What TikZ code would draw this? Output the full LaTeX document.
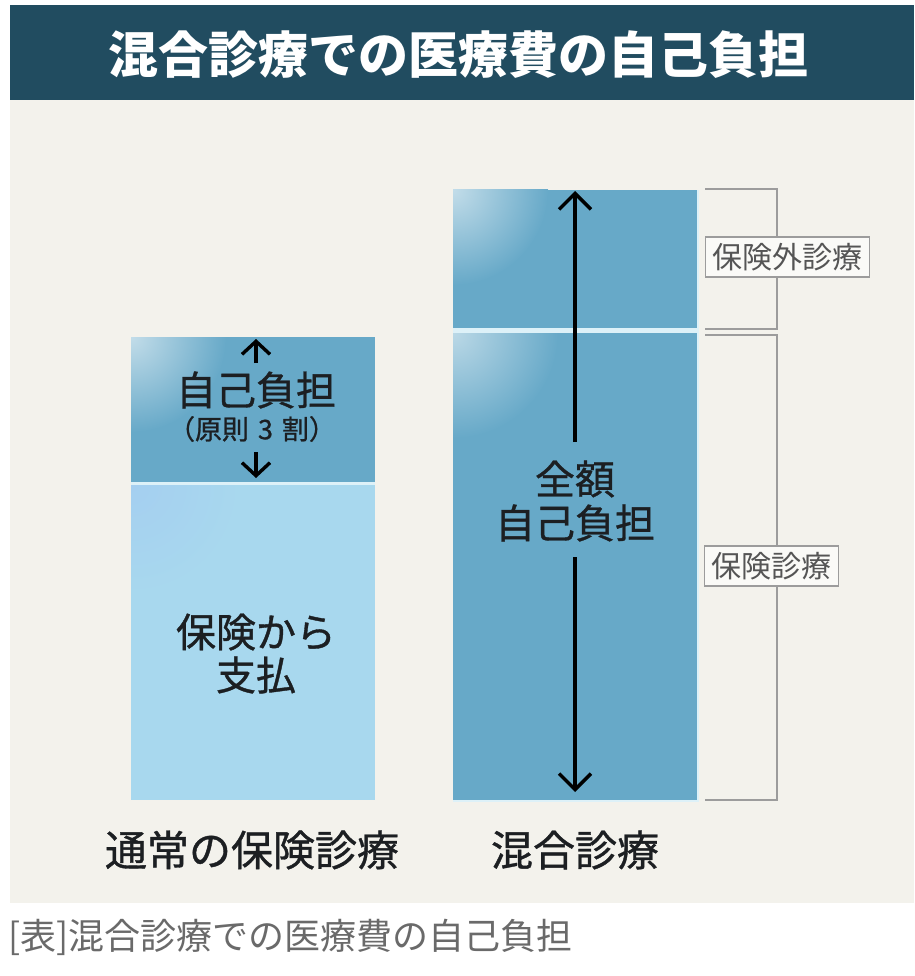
\documentclass[tikz,border=0pt]{standalone}
\usepackage{fontspec}
\setmainfont{Noto Sans CJK JP}
\newfontfamily\cjkmed[FakeBold=0.9]{Noto Sans CJK JP}
\usetikzlibrary{arrows.meta}
\definecolor{titlebg}{HTML}{214C60}
\definecolor{panel}{HTML}{F3F2EC}
\definecolor{boxdark}{HTML}{67A9C8}
\definecolor{boxlight}{HTML}{A8D8EE}
\definecolor{gapcol}{HTML}{DDF1F8}
\definecolor{brk}{HTML}{9C9C9C}
\definecolor{lbltext}{HTML}{555555}
\definecolor{captext}{HTML}{6A6A6A}
\definecolor{maintext}{HTML}{1C1F22}
\tikzset{
  colbox/.style={anchor=north west, inner sep=0pt, outer sep=0pt, draw=none},
  intext/.style={text=maintext, inner sep=0pt, font=\cjkmed\fontsize{40}{42}\selectfont},
  arrS/.style={line width=3.4pt, -{Straight Barb[length=13pt,width=28pt]}},
  arrL/.style={line width=3.4pt, -{Straight Barb[length=16pt,width=32pt]}},
  brace/.style={draw=brk, line width=1.6pt},
  lbl/.style={draw=brk, line width=1.3pt, fill=white!60!panel, text=lbltext,
    inner xsep=7pt, inner ysep=6pt, font=\fontsize{30}{32}\selectfont},
  collbl/.style={text=maintext, font=\cjkmed\fontsize{42}{44}\selectfont},
}
\begin{document}
\begin{tikzpicture}[x=1pt,y=-1pt]
\useasboundingbox (0,0) rectangle (914,976);
\fill[white] (0,0) rectangle (914,976);
% panel and title
\fill[panel] (10,100) rectangle (914,903);
\node[colbox, fill=titlebg, minimum width=904pt, minimum height=95pt] (titlebar) at (10,5) {};
\node[text=white, font=\fontsize{50}{52}\selectfont\bfseries] (title) at (458,55) {混合診療での医療費の自己負担};

% ---------- left column ----------
\fill[gapcol] (131,337) rectangle (375,800);
\node[colbox, fill=boxdark, minimum width=244pt, minimum height=145pt] (ldark) at (131,337) {};
\node[colbox, fill=boxlight, minimum width=244pt, minimum height=315pt] (llight) at (131,485) {};
\begin{scope}
\clip (131,337) rectangle (375,482);
\shade[inner color=white!60!boxdark, outer color=boxdark] (131,337) circle (95pt);
\end{scope}
\begin{scope}
\clip (131,485) rectangle (375,800);
\shade[inner color=white!55!blue!12!boxlight, outer color=boxlight] (131,485) circle (110pt);
\end{scope}
\node[intext] (jiko) at (256,390) {自己負担};
\node[intext, font=\cjkmed\fontsize{27}{29}\selectfont] (gensoku) at (252,429) {（原則\hspace{9pt}3\hspace{9pt}割）};
\node[intext] (hoken1) at (256,632) {保険から};
\node[intext] (hoken2) at (256,675) {支払};
\coordinate (lu1) at (256,363);
\coordinate (lu2) at (256,339);
\coordinate (ld1) at (256,452);
\coordinate (ld2) at (256,478);
\draw[arrS] (lu1) -- (lu2);
\draw[arrS] (ld1) -- (ld2);

% ---------- right column ----------
\fill[gapcol] (453,190) rectangle (699,802);
\node[colbox, fill=boxdark, minimum width=244pt, minimum height=138pt] (rtop) at (453,190) {};
\node[colbox, fill=boxdark, minimum width=244pt, minimum height=467pt] (rbot) at (453,333) {};
\begin{scope}
\clip (453,190) rectangle (697,328);
\shade[inner color=white!60!boxdark, outer color=boxdark] (453,190) circle (95pt);
\end{scope}
\begin{scope}
\clip (453,333) rectangle (697,800);
\shade[inner color=white!55!boxdark, outer color=boxdark] (453,333) circle (105pt);
\end{scope}
\node[intext] (zengaku) at (575,479) {全額};
\node[intext] (jiko2) at (575,523) {自己負担};
\coordinate (ru1) at (575,442);
\coordinate (ru2) at (575,191);
\coordinate (rd1) at (575,557);
\coordinate (rd2) at (575,792);
\draw[arrL] (ru1) -- (ru2);
\draw[arrL] (rd1) -- (rd2);

% ---------- brackets ----------
\coordinate (b1a) at (705,189);
\coordinate (b1b) at (777,189);
\coordinate (b1c) at (777,329);
\coordinate (b1d) at (705,329);
\draw[brace] (b1a) -- (b1b) -- (b1c) -- (b1d);
\coordinate (b2a) at (705,335);
\coordinate (b2b) at (777,335);
\coordinate (b2c) at (777,800);
\coordinate (b2d) at (705,800);
\draw[brace] (b2a) -- (b2b) -- (b2c) -- (b2d);
\node[lbl, anchor=west] (gai) at (705,257) {保険外診療};
\node[lbl, anchor=west] (hoken) at (704,566) {保険診療};

% ---------- column labels ----------
\node[collbl] (clab1) at (252,850) {通常の保険診療};
\node[collbl] (clab2) at (575,850) {混合診療};

% ---------- caption ----------
\node[text=captext, anchor=west, inner sep=0pt, font=\fontsize{36}{38}\selectfont] (caption) at (8,937) {[表]混合診療での医療費の自己負担};
\end{tikzpicture}
\end{document}
